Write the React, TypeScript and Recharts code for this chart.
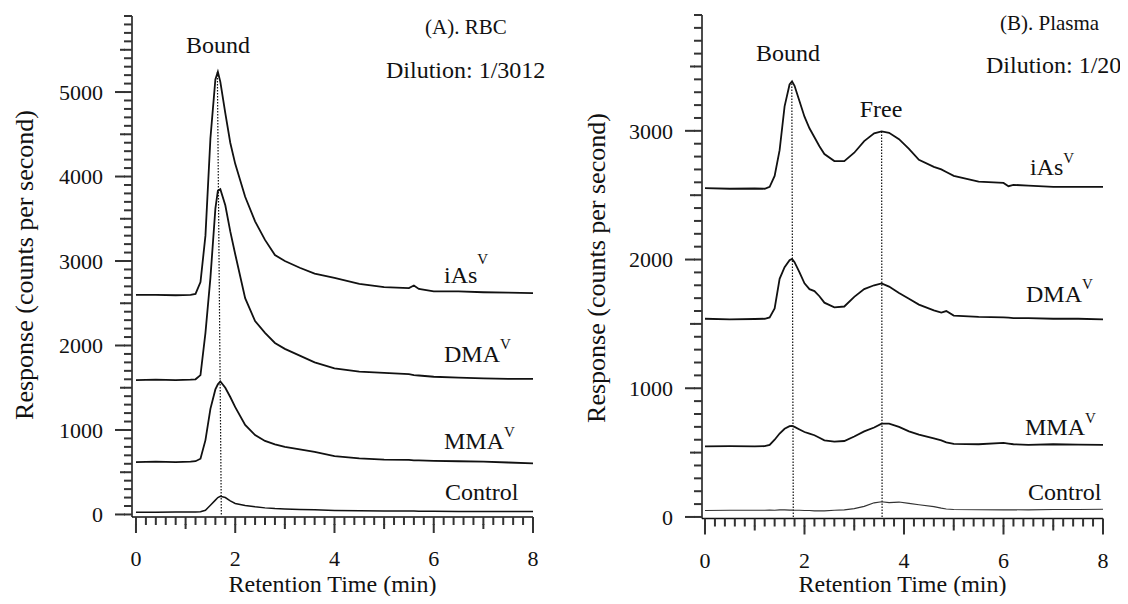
import React from 'react';
import { LineChart, Line, XAxis, YAxis, ReferenceLine } from 'recharts';

const FONT = 'Liberation Serif, DejaVu Serif, serif';
const INK = '#111111';
const TICK = '#333333';

// ---------- Panel A: RBC ----------
const rbcTime = [0, 0.4, 0.8, 1.1, 1.2, 1.3, 1.4, 1.5, 1.6, 1.65, 1.7, 1.8, 1.9, 2.0, 2.2, 2.4, 2.6, 2.8, 3.0, 3.3, 3.6, 4.0, 4.5, 5.0, 5.5, 5.6, 5.7, 6.0, 6.5, 7.0, 7.5, 8.0];
const rbcIAs = [2600, 2600, 2595, 2600, 2610, 2750, 3300, 4450, 5150, 5240, 5120, 4750, 4400, 4150, 3760, 3470, 3250, 3070, 3000, 2920, 2850, 2800, 2730, 2690, 2680, 2710, 2670, 2640, 2640, 2630, 2625, 2620];
const rbcDMA = [1590, 1595, 1590, 1595, 1600, 1650, 2150, 2800, 3620, 3830, 3850, 3660, 3350, 3080, 2560, 2290, 2150, 2030, 1960, 1880, 1800, 1730, 1690, 1675, 1660, 1650, 1645, 1630, 1620, 1610, 1605, 1605];
const rbcMMA = [620, 625, 620, 625, 630, 660, 880, 1250, 1480, 1540, 1575, 1500, 1390, 1270, 1060, 940, 870, 830, 800, 770, 740, 690, 665, 650, 645, 640, 640, 635, 630, 625, 615, 605];
const rbcControl = [25, 25, 28, 30, 30, 32, 50, 110, 170, 200, 215, 200, 160, 130, 105, 90, 78, 70, 65, 60, 55, 48, 45, 42, 40, 40, 38, 38, 36, 35, 35, 35];

// ---------- Panel B: Plasma ----------
const plasmaTime = [0, 0.5, 1.0, 1.2, 1.3, 1.4, 1.5, 1.6, 1.7, 1.75, 1.8, 1.9, 2.0, 2.1, 2.2, 2.3, 2.4, 2.6, 2.8, 3.0, 3.2, 3.4, 3.55, 3.7, 3.9, 4.1, 4.3, 4.6, 4.75, 4.85, 5.0, 5.5, 6.0, 6.1, 6.2, 6.5, 7.0, 7.5, 8.0];
const plasmaIAs = [2555, 2550, 2552, 2550, 2565, 2650, 2850, 3190, 3360, 3385, 3350, 3230, 3110, 3020, 2950, 2880, 2820, 2765, 2765, 2830, 2920, 2980, 2995, 2985, 2935, 2860, 2775, 2720, 2700, 2680, 2650, 2605, 2595, 2570, 2580, 2575, 2565, 2565, 2565];
const plasmaDMA = [1540, 1535, 1538, 1540, 1550, 1620, 1850, 1940, 1995, 2005, 1980, 1900, 1815, 1770, 1755, 1715, 1665, 1628, 1635, 1710, 1770, 1800, 1815, 1790, 1740, 1695, 1650, 1605, 1588, 1600, 1565, 1555, 1550, 1548, 1545, 1545, 1540, 1540, 1535];
const plasmaMMA = [548, 550, 548, 550, 560, 600, 648, 685, 705, 708, 700, 680, 660, 648, 635, 615, 595, 585, 590, 625, 665, 695, 725, 725, 700, 665, 640, 610, 595, 580, 568, 565, 575, 570, 565, 560, 565, 562, 560];
const plasmaControl = [50, 52, 52, 52, 53, 52, 55, 55, 53, 53, 52, 52, 50, 50, 48, 47, 47, 52, 55, 65, 82, 110, 118, 112, 116, 105, 95, 80, 68, 62, 58, 56, 55, 55, 56, 55, 58, 58, 60];

// ---------- Ticks ----------
const xTicks = [0, 0.2, 0.4, 0.6, 0.8, 1, 1.2, 1.4, 1.6, 1.8, 2, 2.2, 2.4, 2.6, 2.8, 3, 3.2, 3.4, 3.6, 3.8, 4, 4.2, 4.4, 4.6, 4.8, 5, 5.2, 5.4, 5.6, 5.8, 6, 6.2, 6.4, 6.6, 6.8, 7, 7.2, 7.4, 7.6, 7.8, 8];
const rbcYTicks = Array.from({ length: 60 }, (_, i) => i * 100);
const plasmaYTicks = Array.from({ length: 40 }, (_, i) => i * 100);

const buildRows = (time: number[], series: Record<string, number[]>) =>
  time.map((t, i) => {
    const row: Record<string, number> = { t };
    Object.keys(series).forEach((k) => {
      row[k] = series[k][i];
    });
    return row;
  });

const rbcRows = buildRows(rbcTime, { iAs: rbcIAs, DMA: rbcDMA, MMA: rbcMMA, Control: rbcControl });
const plasmaRows = buildRows(plasmaTime, { iAs: plasmaIAs, DMA: plasmaDMA, MMA: plasmaMMA, Control: plasmaControl });

const BASE = 8;

const XTick = (props: any) => {
  const x = Number(props.x);
  const y = Number(props.y);
  const v = Number(props.payload.value);
  const k = Math.round(v * 5);
  const major = k % 10 === 0;
  const mid = k % 5 === 0;
  const extra = major ? 8 : mid ? 4 : 0;
  return (
    <g>
      {extra > 0 && <rect x={x - 1} y={y - 1} width={2} height={extra + 1} fill={TICK} />}
      {major && (
        <text x={x} y={y + 41} textAnchor="middle" style={{ fontFamily: FONT, fontSize: 22 }} fill={INK}>
          {v}
        </text>
      )}
    </g>
  );
};

const YTick = (props: any) => {
  const x = Number(props.x);
  const y = Number(props.y);
  const v = Number(props.payload.value);
  const major = v % 1000 === 0;
  const mid = v % 500 === 0;
  const extra = major ? 9 : mid ? 4 : 0;
  return (
    <g>
      {extra > 0 && <rect x={x - extra} y={y - 1} width={extra + 1} height={2} fill={TICK} />}
      {major && (
        <text x={x - 9 - 12} y={y} dy="0.35em" textAnchor="end" style={{ fontFamily: FONT, fontSize: 22 }} fill={INK}>
          {v}
        </text>
      )}
    </g>
  );
};

const lineProps = {
  type: 'linear' as const,
  stroke: INK,
  strokeWidth: 1.8,
  dot: false,
  isAnimationActive: false,
};

const dotted = { stroke: INK, strokeWidth: 1.2, strokeDasharray: '1.5 1.5', ifOverflow: 'visible' as const };

const txt = (size: number) => ({ fontFamily: FONT, fontSize: size });

const Sup = ({ x, y, base, dy = -12 }: { x: number; y: number; base: string; dy?: number }) => (
  <text x={x} y={y} style={txt(24)} fill={INK}>
    {base}
    <tspan dy={dy} style={txt(15)}>V</tspan>
  </text>
);

export default function App() {
  return (
    <div style={{ width: 1128, height: 604, margin: -8, background: '#fff', position: 'relative' }}>
      <div style={{ position: 'absolute', left: 0, top: 0 }}>
        <LineChart width={560} height={604} data={rbcRows} margin={{ top: 16, right: 27, bottom: 27, left: 72 }}>
          <XAxis dataKey="t" type="number" domain={[-0.08, 8]} allowDataOverflow ticks={xTicks} interval={0} tick={XTick} tickLine={{ stroke: TICK, strokeWidth: 2 }} tickSize={BASE} tickMargin={0} height={60} axisLine={{ stroke: INK, strokeWidth: 1.5 }} />
          <YAxis type="number" domain={[-30, 5900]} allowDataOverflow ticks={rbcYTicks} interval={0} tick={YTick} tickLine={{ stroke: TICK, strokeWidth: 2 }} tickSize={BASE} tickMargin={0} width={60} axisLine={{ stroke: INK, strokeWidth: 1.5 }} />
          <ReferenceLine segment={[{ x: 1.72, y: 0 }, { x: 1.64, y: 5235 }]} {...dotted} />
          <Line dataKey="iAs" {...lineProps} />
          <Line dataKey="DMA" {...lineProps} />
          <Line dataKey="MMA" {...lineProps} />
          <Line dataKey="Control" {...lineProps} strokeWidth={1.5} />
        </LineChart>
      </div>
      <div style={{ position: 'absolute', left: 570, top: 0 }}>
        <LineChart width={558} height={604} data={plasmaRows} margin={{ top: 15, right: 25, bottom: 25.5, left: 72 }}>
          <XAxis dataKey="t" type="number" domain={[-0.06, 8]} allowDataOverflow ticks={xTicks} interval={0} tick={XTick} tickLine={{ stroke: TICK, strokeWidth: 2 }} tickSize={BASE} tickMargin={0} height={60} axisLine={{ stroke: INK, strokeWidth: 1.5 }} />
          <YAxis type="number" domain={[-12, 3900]} allowDataOverflow ticks={plasmaYTicks} interval={0} tick={YTick} tickLine={{ stroke: TICK, strokeWidth: 2 }} tickSize={BASE} tickMargin={0} width={60} axisLine={{ stroke: INK, strokeWidth: 1.5 }} />
          <ReferenceLine segment={[{ x: 1.775, y: 0 }, { x: 1.745, y: 3385 }]} {...dotted} />
          <ReferenceLine segment={[{ x: 3.56, y: 0 }, { x: 3.55, y: 2995 }]} {...dotted} />
          <Line dataKey="iAs" {...lineProps} />
          <Line dataKey="DMA" {...lineProps} />
          <Line dataKey="MMA" {...lineProps} />
          <Line dataKey="Control" {...lineProps} strokeWidth={1.2} stroke="#333" />
        </LineChart>
      </div>
      <svg width={1128} height={604} style={{ position: 'absolute', left: 0, top: 0, pointerEvents: 'none' }}>
        <text x={24} y={265} transform="rotate(-90 24 265)" textAnchor="middle" dominantBaseline="central" style={txt(26)} fill={INK}>
          Response (counts per second)
        </text>
        <text x={332.5} y={592} textAnchor="middle" style={txt(24)} fill={INK}>
          Retention Time (min)
        </text>
        <text x={218} y={53} textAnchor="middle" style={txt(24)} fill={INK}>Bound</text>
        <text x={425} y={34} style={txt(21)} fill={INK}>(A). RBC</text>
        <text x={386} y={78} style={txt(24)} fill={INK}>Dilution: 1/3012</text>
        <Sup x={444} y={283} base="iAs" dy={-19} />
        <Sup x={444} y={362} base="DMA" dy={-13} />
        <Sup x={444} y={449} base="MMA" dy={-12} />
        <text x={445} y={500} style={txt(24)} fill={INK}>Control</text>

        <text x={596} y={268} transform="rotate(-90 596 268)" textAnchor="middle" dominantBaseline="central" style={txt(26)} fill={INK}>
          Response (counts per second)
        </text>
        <text x={902.5} y={592} textAnchor="middle" style={txt(24)} fill={INK}>
          Retention Time (min)
        </text>
        <text x={788} y={61} textAnchor="middle" style={txt(24)} fill={INK}>Bound</text>
        <text x={881} y={117} textAnchor="middle" style={txt(24)} fill={INK}>Free</text>
        <text x={1000} y={30} style={txt(21)} fill={INK}>(B). Plasma</text>
        <text x={986} y={73} style={txt(24)} fill={INK}>Dilution: 1/20</text>
        <Sup x={1030} y={175} base="iAs" dy={-12} />
        <Sup x={1026} y={302} base="DMA" dy={-13} />
        <Sup x={1025} y={435} base="MMA" dy={-12} />
        <text x={1028} y={500} style={txt(24)} fill={INK}>Control</text>
      </svg>
    </div>
  );
}
